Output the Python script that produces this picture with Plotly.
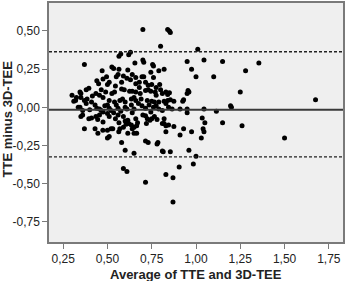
import plotly.graph_objects as go

# Bland-Altman data: average (x) and difference (y)
avg_vals = [
    0.70, 0.84, 0.85, 0.855, 0.80, 1.01, 0.565, 0.575, 0.62, 0.63,
    0.37, 0.655, 0.70, 0.705, 0.755, 0.76, 0.95, 1.045, 1.15, 1.355,
    1.28, 1.10, 1.00, 0.975, 1.25, 1.675, 0.955, 0.96, 0.95, 0.93,
    0.925, 0.91, 0.95, 0.95, 1.045, 1.115, 1.195, 1.20, 1.035, 1.05,
    1.15, 1.26, 0.93, 0.975, 1.04, 1.045, 0.91, 1.03, 1.50, 0.96,
    1.00, 0.985, 0.905, 0.87, 0.83, 0.715, 0.87, 0.61, 0.59, 0.60,
    0.65, 0.715, 0.73, 0.78, 0.785, 0.81, 0.815, 0.855, 0.58,
    # lower middle
    0.37, 0.43, 0.446, 0.474, 0.50, 0.52, 0.53, 0.50, 0.51, 0.564,
    0.57, 0.59, 0.605, 0.62, 0.635, 0.65, 0.665, 0.64, 0.65, 0.665,
    0.615, 0.82, 0.83, 0.845, 0.875, 0.83,
    # around -0.05
    0.35, 0.36, 0.395, 0.41, 0.435, 0.445, 0.455, 0.475, 0.50, 0.51,
    0.545, 0.56, 0.565, 0.59, 0.60, 0.615, 0.66, 0.67, 0.70, 0.715,
    0.725, 0.74, 0.75, 0.765, 0.78, 0.81, 0.82, 0.72,
    # around zero
    0.335, 0.345, 0.38, 0.41, 0.43, 0.44, 0.455, 0.465, 0.485, 0.50,
    0.51, 0.52, 0.55, 0.56, 0.575, 0.60, 0.61, 0.635, 0.65, 0.675,
    0.695, 0.715, 0.735, 0.76, 0.775, 0.79, 0.81, 0.83, 0.845, 0.865,
    0.36, 0.40, 0.475, 0.535, 0.64, 0.745,
    # 0.02 - 0.10
    0.30, 0.31, 0.32, 0.345, 0.35, 0.325, 0.35, 0.37, 0.385, 0.415,
    0.435, 0.455, 0.475, 0.49, 0.51, 0.54, 0.57, 0.585, 0.60, 0.635,
    0.65, 0.66, 0.69, 0.725, 0.75, 0.765, 0.79, 0.82, 0.84, 0.855,
    0.875,
    # 0.10 - 0.17
    0.38, 0.395, 0.465, 0.525, 0.54, 0.58, 0.595, 0.625, 0.64, 0.66,
    0.685, 0.715, 0.745, 0.77, 0.775, 0.81, 0.83, 0.84, 0.85, 0.50,
    0.545, 0.58, 0.66, 0.68, 0.68, 0.715, 0.73, 0.775, 0.80, 0.44,
    0.45, 0.795, 0.75, 0.73,
    # 0.17 - 0.27
    0.475, 0.495, 0.51, 0.55, 0.56, 0.59, 0.61, 0.63, 0.66, 0.695,
    0.705, 0.745, 0.76, 0.47, 0.525, 0.535, 0.565, 0.615, 0.82, 0.79,
    0.64,
]
diff_vals = [
    0.51, 0.51, 0.50, 0.49, 0.40, 0.38, 0.335, 0.35, 0.345, 0.36,
    0.28, 0.29, 0.31, 0.295, 0.28, 0.27, 0.30, 0.31, 0.30, 0.29,
    0.24, 0.20, 0.20, 0.25, 0.10, 0.05, 0.11, 0.10, 0.09, 0.05,
    0.04, -0.01, -0.01, -0.035, -0.01, -0.025, 0.01, 0.0, -0.07, -0.10,
    -0.10, -0.12, -0.14, -0.16, -0.14, -0.16, -0.18, -0.20, -0.20, -0.28,
    -0.32, -0.37, -0.39, -0.46, -0.44, -0.49, -0.62, -0.42, -0.40, -0.28,
    -0.30, -0.22, -0.23, -0.24, -0.23, -0.285, -0.29, -0.29, -0.23,
    # lower middle
    -0.14, -0.14, -0.17, -0.15, -0.15, -0.14, -0.14, -0.20, -0.19, -0.16,
    -0.14, -0.13, -0.11, -0.105, -0.115, -0.13, -0.12, -0.14, -0.17, -0.17,
    -0.17, -0.105, -0.12, -0.115, -0.125, -0.16,
    # around -0.05
    -0.06, -0.05, -0.075, -0.07, -0.06, -0.08, -0.05, -0.095, -0.04, -0.06,
    -0.075, -0.05, -0.10, -0.06, -0.09, -0.085, -0.075, -0.10, -0.05, -0.055,
    -0.075, -0.085, -0.075, -0.06, -0.08, -0.105, -0.075, -0.105,
    # around zero
    0.0, 0.0, 0.025, 0.035, 0.015, -0.005, -0.01, -0.02, 0.01, 0.015,
    -0.005, -0.02, 0.015, -0.005, -0.025, 0.0, -0.01, 0.015, -0.01, 0.025,
    0.01, -0.005, 0.015, 0.0, 0.01, -0.01, -0.02, 0.025, 0.0, -0.01,
    -0.02, -0.015, -0.03, -0.035, -0.035, -0.03,
    # 0.02 - 0.10
    0.08, 0.04, 0.045, 0.10, 0.09, 0.065, 0.065, 0.045, 0.055, 0.075,
    0.09, 0.08, 0.065, 0.10, 0.045, 0.035, 0.045, 0.055, 0.035, 0.055,
    0.065, 0.045, 0.055, 0.045, 0.04, 0.035, 0.035, 0.04, 0.045, 0.05,
    0.04,
    # 0.10 - 0.17
    0.115, 0.125, 0.115, 0.09, 0.10, 0.12, 0.115, 0.105, 0.105, 0.10,
    0.09, 0.11, 0.105, 0.10, 0.08, 0.09, 0.10, 0.085, 0.095, 0.15,
    0.14, 0.165, 0.155, 0.13, 0.165, 0.165, 0.115, 0.13, 0.115, 0.175,
    0.155, 0.15, 0.15, 0.145,
    # 0.17 - 0.27
    0.185, 0.20, 0.165, 0.20, 0.215, 0.205, 0.19, 0.18, 0.195, 0.20,
    0.20, 0.23, 0.195, 0.24, 0.265, 0.255, 0.25, 0.245, 0.25, 0.24,
    0.215,
]

mean_diff = -0.015
upper_loa = 0.364
lower_loa = -0.324

x_tick_vals = [0.25, 0.50, 0.75, 1.00, 1.25, 1.50, 1.75]
x_tick_text = ["0,25", "0,50", "0,75", "1,00", "1,25", "1,50", "1,75"]
y_tick_vals = [0.50, 0.25, 0.00, -0.25, -0.50, -0.75]
y_tick_text = ["0,50", "0,25", "0,00", "-0,25", "-0,50", "-0,75"]

x_range = [0.17, 1.83]
y_range = [-0.881, 0.683]

fig = go.Figure()

fig.add_trace(go.Scatter(
    x=avg_vals, y=diff_vals, mode="markers",
    marker=dict(color="#000000", size=5, line=dict(width=0)),
    showlegend=False, hoverinfo="x+y",
))

for yv, dash, col, w in [(upper_loa, "3px,2px", "#222222", 1.3),
                         (lower_loa, "3px,2px", "#222222", 1.3),
                         (mean_diff, "solid", "#3a3a3a", 2)]:
    fig.add_shape(type="line", xref="x", yref="y",
                  x0=x_range[0], x1=x_range[1], y0=yv, y1=yv,
                  line=dict(color=col, width=w, dash=dash), layer="above")

axis_common = dict(
    showgrid=False, zeroline=False, showline=True, mirror=True,
    linecolor="#7a7a7a", linewidth=1.5, ticks="outside", ticklen=5,
    tickcolor="#7a7a7a", tickwidth=1.2,
    tickfont=dict(family="Liberation Sans, Arial, sans-serif", size=12, color="#222222"),
)

fig.update_xaxes(range=x_range, tickvals=x_tick_vals, ticktext=x_tick_text, **axis_common)
fig.update_yaxes(range=y_range, tickvals=y_tick_vals, ticktext=y_tick_text, **axis_common)

fig.update_layout(
    width=346, height=281,
    margin=dict(l=49, r=1, t=1, b=39),
    paper_bgcolor="#ffffff", plot_bgcolor="#efefef",
    font=dict(family="Liberation Sans, Arial, sans-serif", color="#222222"),
    annotations=[
        dict(text="<b>Average of TTE and 3D-TEE</b>", xref="paper", yref="paper",
             x=0.5, y=-0.138, xanchor="center", yanchor="middle", showarrow=False,
             font=dict(size=13, color="#222222")),
        dict(text="<b>TTE minus 3D-TEE</b>", xref="paper", yref="paper",
             x=-0.142, y=0.514, xanchor="center", yanchor="middle", showarrow=False,
             textangle=-90, font=dict(size=13, color="#222222")),
    ],
)

fig.write_html(
    "out.html",
    config={"displayModeBar": False},
    post_script="document.body.style.margin='0';document.body.style.padding='0';",
)
